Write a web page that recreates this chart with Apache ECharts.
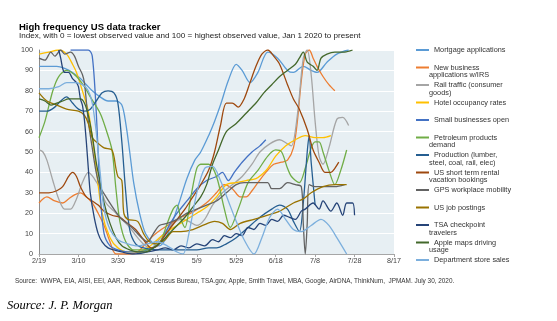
<!DOCTYPE html>
<html>
<head>
<meta charset="utf-8">
<script src="https://cdn.jsdelivr.net/npm/echarts@6/dist/echarts.min.js"></script>
<style>
  html, body { margin: 0; padding: 0; background: #ffffff; }
  #chart { width: 557px; height: 321px; }
</style>
</head>
<body>
<div id="chart"></div>
<script>
// x values are days counted from 19 Feb 2020; y values are the 0-100 index
const xTickLabels = ['2/19', '3/10', '3/30', '4/19', '5/9', '5/29', '6/18', '7/8', '7/28', '8/17'];

const legendLabels = [
  ['Mortgage applications'],
  ['New business', 'applications w/IRS'],
  ['Rail traffic (consumer', 'goods)'],
  ['Hotel occupancy rates'],
  ['Small businesses open'],
  ['Petroleum products', 'demand'],
  ['Production (lumber,', 'steel, coal, rail, elec)'],
  ['US short term rental', 'vacation bookings'],
  ['GPS workplace mobility'],
  ['US job postings'],
  ['TSA checkpoint', 'travelers'],
  ['Apple maps driving', 'usage'],
  ['Department store sales']
];

const mortgageApps = [[0,92],[5,92],[9,92],[13,91],[17,89],[21,86],[24,83],[27,80],[31,77],[35,75],[39,75],[42,73],[44,64],[46,50],[48,35],[51,20],[54,10],[58,5],[61,4],[64,7],[67,14],[71,25],[75,37],[79,46],[82,50],[86,58],[89,65],[92,73],[96,85],[100,93],[103,90],[107,84],[111,89],[116,99],[121,96],[126,90],[129,89],[134,92],[138,90],[141,89],[146,94],[151,98],[157,100]];

const newBusinessApps = [[0,25],[4,28],[8,26],[12,25],[15,27],[18,29],[21,30],[24,28],[27,25],[30,20],[33,14],[36,6],[39,0],[46,0],[50,1],[54,5],[58,9],[62,12],[67,15],[72,18],[77,20],[82,23],[86,26],[90,30],[94,34],[98,32],[102,28],[105,28],[108,31],[111,35],[115,40],[119,44],[123,45],[126,46],[129,52],[131,65],[133,85],[135,98],[137,100],[139,96],[141,92],[144,87],[147,83],[150,80]];

const railTraffic = [[0,51],[2,50],[4,46],[7,36],[10,27],[13,22],[16,22],[19,27],[22,35],[25,40],[28,37],[31,32],[34,25],[38,21],[42,17],[46,13],[50,8],[54,4],[57,3],[60,6],[64,11],[68,15],[72,17],[76,16],[80,14],[84,17],[88,24],[93,30],[98,34],[103,38],[108,44],[112,50],[117,54],[122,56],[126,54],[128,53],[131,68],[134,96],[136,100],[138,88],[140,65],[142,48],[144,44],[147,52],[151,66],[154,67],[157,63]];

const hotelOccupancy = [[0,98],[5,99],[10,100],[14,98],[17,93],[19,89],[22,80],[25,70],[28,50],[32,20],[36,8],[40,3],[45,1],[50,1],[55,3],[60,7],[65,11],[70,14],[75,17],[80,20],[85,23],[90,28],[95,34],[100,35],[105,36],[110,37],[113,39],[116,42],[120,48],[125,53],[130,56],[135,58],[140,57],[144,57],[148,58]];

const smallBusinessOpen = [[16,100],[25,100],[27,97],[29,70],[31,30],[33,10],[36,4],[40,2],[45,1],[50,1],[55,2],[60,4],[63,8],[66,14],[70,20],[75,26],[80,32],[85,36],[90,38],[93,40],[96,36],[99,40],[103,45],[108,50],[112,53],[115,56]];

const petroleumDemand = [[0,57],[3,65],[7,80],[10,87],[14,90],[19,87],[23,82],[26,77],[31,69],[34,61],[37,51],[39,32],[41,16],[44,6],[48,2],[53,2],[58,3],[62,7],[65,15],[68,22],[70,24],[72,17],[74,13],[77,28],[80,42],[82,44],[86,44],[90,38],[94,22],[97,13],[101,22],[106,35],[111,41],[116,48],[120,51],[123,50],[126,42],[128,38],[132,35],[135,42],[138,52],[140,55],[142,55],[144,50],[147,41],[150,34],[153,41],[156,51]];

const productionIndex = [[0,70],[4,70],[8,72],[11,75],[14,77],[17,74],[20,71],[23,70],[26,71],[29,75],[32,79],[35,80],[38,79],[40,74],[42,55],[44,30],[46,12],[49,5],[53,3],[60,2],[70,2],[80,2],[86,3],[90,3],[95,5],[100,8],[106,13],[112,18],[118,22],[122,24],[126,22],[129,16],[132,11],[134,25],[136,50],[137,58],[138,45],[140,24]];

const rentalBookings = [[0,30],[5,30],[9,31],[12,33],[15,38],[17,40],[19,38],[21,33],[24,28],[27,26],[30,24],[33,21],[37,19],[41,18],[45,15],[49,12],[53,7],[57,3],[60,4],[63,8],[66,12],[70,17],[74,22],[78,28],[82,34],[86,41],[89,50],[92,63],[95,74],[98,74],[101,72],[104,76],[107,84],[110,92],[113,98],[116,100],[119,97],[122,93],[126,83],[129,76],[132,71],[136,61],[139,51],[142,45],[145,40],[148,40],[150,42],[152,45]];

const workplaceMobility = [[0,96],[3,95],[6,99],[8,97],[11,100],[13,98],[16,99],[18,97],[20,92],[22,88],[23,84],[24,75],[25,65],[27,52],[29,40],[31,33],[34,28],[38,22],[42,17],[46,14],[49,11],[52,8],[55,6],[58,10],[61,14],[65,15],[70,17],[75,20],[80,22],[85,24],[90,26],[95,30],[100,34],[104,35],[110,35],[116,35],[118,32],[122,32],[126,35],[130,34],[133,33],[134,15],[135,0],[136,15],[137,34],[140,33],[145,33],[150,33],[155,34]];

const jobPostings = [[0,79],[4,75],[9,73],[14,71],[20,70],[23,68],[25,64],[27,57],[29,55],[33,52],[37,51],[39,42],[40,38],[42,36],[43,20],[45,17],[50,16],[53,10],[56,6],[60,5],[64,7],[68,11],[72,11],[78,12],[83,14],[89,16],[93,15],[97,12],[102,15],[109,17],[116,19],[122,21],[129,25],[134,27],[138,30],[144,33],[150,34],[156,34]];

const tsaTravelers = [[10,100],[11,96],[12,91],[13,89],[15,89],[17,86],[19,84],[20,82],[21,76],[22,73],[23,66],[24,55],[25,42],[26,30],[28,18],[30,10],[32,6],[35,3],[38,2],[42,1],[48,0],[55,1],[60,2],[64,3],[68,2],[72,4],[76,3],[80,5],[84,4],[88,7],[91,6],[94,9],[97,8],[100,10],[103,9],[106,13],[109,12],[112,15],[115,14],[118,17],[121,16],[124,19],[127,18],[130,17],[133,21],[135,22],[139,25],[142,22],[144,26],[148,21],[151,25],[154,19],[156,25],[159,25],[160,19]];

const drivingUsage = [[0,76],[3,75],[6,73],[9,74],[12,75],[15,76],[18,76],[21,76],[23,74],[25,68],[27,58],[29,45],[31,35],[33,25],[36,15],[39,8],[42,4],[46,2],[50,1],[54,1],[58,3],[62,6],[66,10],[70,14],[74,18],[78,23],[82,28],[85,34],[88,44],[91,51],[95,60],[100,64],[105,69],[110,74],[114,79],[118,83],[122,87],[126,90],[130,93],[132,96],[134,99],[136,94],[139,92],[141,90],[143,96],[146,98],[150,99],[155,99],[159,100]];

const deptStoreSales = [[0,81],[5,81],[10,82],[14,84],[18,84],[22,83],[25,80],[27,74],[29,60],[31,40],[33,22],[36,12],[40,7],[45,5],[50,4],[55,5],[60,6],[65,4],[70,1],[73,0],[76,10],[80,30],[84,42],[88,43],[92,36],[96,26],[100,16],[104,7],[109,0],[113,8],[117,18],[121,22],[125,17],[129,12],[133,11],[138,14],[143,17],[147,14],[151,8],[156,0]];

const seriesValues = [
  mortgageApps, newBusinessApps, railTraffic, hotelOccupancy, smallBusinessOpen,
  petroleumDemand, productionIndex, rentalBookings, workplaceMobility, jobPostings,
  tsaTravelers, drivingUsage, deptStoreSales
];

const palette = ['#5B9BD5', '#ED7D31', '#A5A5A5', '#FFC000', '#4472C4', '#70AD47',
  '#255E91', '#9E480E', '#636363', '#997300', '#264478', '#43682B', '#7CAFDD'];

const FONT = '"Liberation Sans", Arial, sans-serif';
const seriesNames = legendLabels.map(l => l.join(' '));
const firstLine = {};
legendLabels.forEach((l, i) => { firstLine[seriesNames[i]] = l[0]; });

// legend geometry: one entry every 17.5px, first entry centred at y = 50
const legendLeft = 411;
const legendFirstCenter = 50;
const legendStep = 17.5;
const legendTextX = 429;
const LEGEND_FONT_SIZE = 7.3;

const wrapTexts = [];
legendLabels.forEach((l, i) => {
  if (l.length > 1) {
    wrapTexts.push({
      type: 'text',
      left: legendTextX,
      top: legendFirstCenter + i * legendStep + 4.3,
      style: { text: l[1], fill: '#333', font: LEGEND_FONT_SIZE + 'px ' + FONT }
    });
  }
});

const chart = echarts.init(document.getElementById('chart'), null, { renderer: 'canvas' });

chart.setOption({
  animation: false,
  backgroundColor: '#ffffff',
  title: {
    text: 'High frequency US data tracker',
    subtext: 'Index, with 0 = lowest observed value and 100 = highest observed value, Jan 1 2020 to present',
    left: 14,
    top: 17,
    padding: 5,
    itemGap: 0,
    textStyle: { fontFamily: FONT, fontSize: 9.5, fontWeight: 'bold', color: '#000' },
    subtextStyle: { fontFamily: FONT, fontSize: 8.1, color: '#222' }
  },
  grid: {
    left: 39, top: 50, width: 355, height: 204,
    show: true, backgroundColor: '#e7eff3', borderWidth: 0
  },
  xAxis: {
    type: 'value', min: 0, max: 180, interval: 20,
    axisLine: { show: true, lineStyle: { color: '#a6a6a6', width: 1 } },
    axisTick: { show: true, length: 3, lineStyle: { color: '#a6a6a6' } },
    splitLine: { show: false },
    axisLabel: {
      margin: 4, color: '#444', fontFamily: FONT, fontSize: 7.2,
      formatter: v => xTickLabels[Math.round(v / 20)]
    }
  },
  yAxis: {
    type: 'value', min: 0, max: 100, interval: 10,
    axisLine: { show: true, lineStyle: { color: '#8c8c8c', width: 1 } },
    axisTick: { show: false },
    splitLine: { show: true, lineStyle: { color: '#ffffff', width: 1 } },
    axisLabel: { margin: 6, color: '#444', fontFamily: FONT, fontSize: 7.2 }
  },
  legend: {
    orient: 'vertical',
    left: legendLeft,
    top: legendFirstCenter - 10,
    padding: 5,
    itemWidth: 13,
    itemHeight: 2,
    itemGap: 7.5,
    icon: 'rect',
    data: seriesNames,
    formatter: name => firstLine[name],
    textStyle: { fontFamily: FONT, fontSize: LEGEND_FONT_SIZE, color: '#333', lineHeight: 10 }
  },
  graphic: wrapTexts.concat([
    {
      type: 'text', left: 15, top: 278,
      style: {
        text: 'Source:  WWPA, EIA, AISI, EEI, AAR, Redbook, Census Bureau, TSA.gov, Apple, Smith Travel, MBA, Google, AirDNA, ThinkNum,  JPMAM. July 30, 2020.',
        fill: '#333', font: '6.4px ' + FONT
      }
    },
    {
      type: 'text', left: 7, top: 299,
      style: {
        text: 'Source: J. P. Morgan',
        fill: '#000', font: 'italic 12.5px "Liberation Serif", "Times New Roman", serif'
      }
    }
  ]),
  series: seriesValues.map((d, i) => ({
    name: seriesNames[i],
    type: 'line',
    data: d,
    smooth: 0.3,
    showSymbol: false,
    symbol: 'none',
    color: palette[i],
    lineStyle: { color: palette[i], width: 1.3 },
    z: 2
  }))
});
</script>
</body>
</html>
